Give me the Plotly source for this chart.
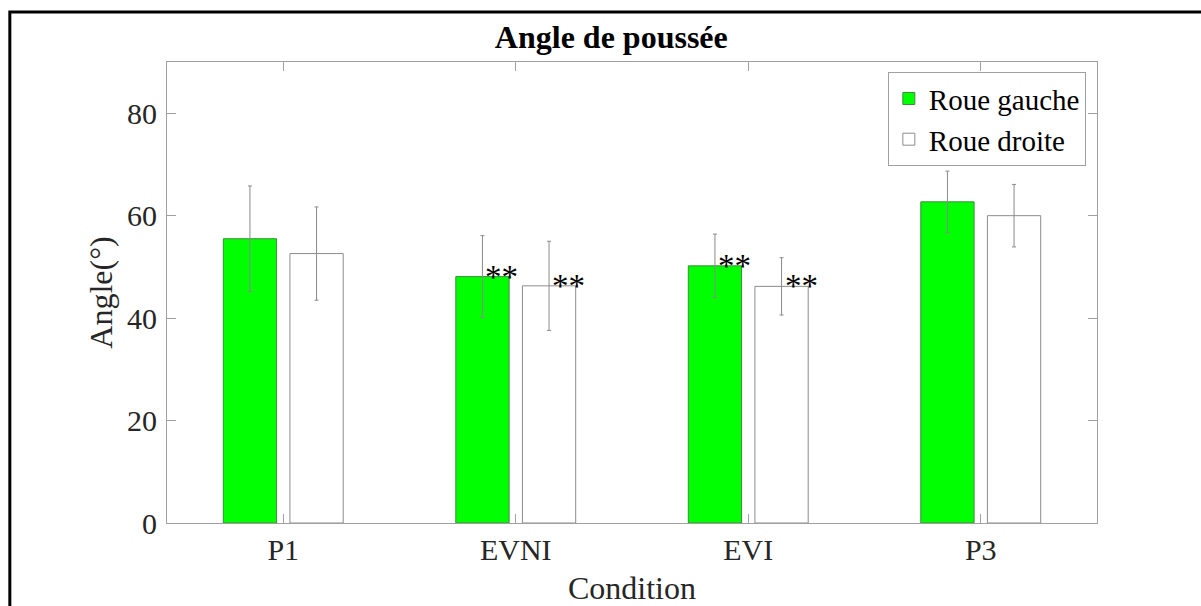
import plotly.graph_objects as go

# ---- data ----
conditions = ["P1", "EVNI", "EVI", "P3"]
left_mean = [55.5, 48.1, 50.2, 62.7]
left_sd = [10.3, 8.0, 6.2, 6.0]
right_mean = [52.6, 46.3, 46.2, 60.0]
right_sd = [9.1, 8.7, 5.6, 6.1]
left_sig = ["", "**", "**", ""]
right_sig = ["", "**", "**", ""]
series_names = ["Roue gauche", "Roue droite"]
y_ticks = [0, 20, 40, 60, 80]

FONT = "Liberation Serif, Times New Roman, serif"
GREY = "#a0a0a0"
BARGAP = 0.427
BARGROUPGAP = 0.2

fig = go.Figure()
fig.add_trace(go.Bar(
    name=series_names[0], x=conditions, y=left_mean,
    marker=dict(color="#00ff00", line=dict(color="#3c8c3c", width=1)),
    error_y=dict(type="data", array=left_sd, color="#8a8a8a", thickness=1, width=2),
))
fig.add_trace(go.Bar(
    name=series_names[1], x=conditions, y=right_mean,
    marker=dict(color="#ffffff", line=dict(color="#8c8c8c", width=1)),
    error_y=dict(type="data", array=right_sd, color="#8a8a8a", thickness=1, width=2),
))

# significance markers, placed beside the top of each bar
slot = (1 - BARGAP) / 2
for means, sigs, sign in [(left_mean, left_sig, -1), (right_mean, right_sig, 1)]:
    for i, (m, s) in enumerate(zip(means, sigs)):
        if s:
            fig.add_annotation(
                x=i + sign * slot / 2, y=m, xref="x", yref="y",
                text=s, showarrow=False, xanchor="left", yanchor="middle",
                xshift=1, yshift=0,
                font=dict(family=FONT, size=33, color="black"),
            )

axis_common = dict(
    showline=True, linecolor=GREY, linewidth=1, mirror="ticks",
    ticks="inside", tickcolor=GREY, ticklen=9, tickwidth=1,
    showgrid=False, zeroline=False, automargin=False,
    tickfont=dict(family=FONT, size=30, color="#262626"),
)

fig.update_layout(
    width=1201, height=606,
    margin=dict(l=167, r=104, t=62, b=83, pad=0, autoexpand=False),
    paper_bgcolor="white", plot_bgcolor="white",
    barmode="group", bargap=BARGAP, bargroupgap=BARGROUPGAP,
    title=dict(text="<b>Angle de poussée</b>", x=0.509, xref="container", xanchor="center",
               y=0.94, yref="container", yanchor="middle",
               font=dict(family=FONT, size=32, color="black")),
    xaxis=dict(**axis_common, range=[-0.5, 3.5], ticklabelstandoff=0,
               title=dict(text="Condition", standoff=12,
                          font=dict(family=FONT, size=32, color="#262626"))),
    yaxis=dict(**axis_common, range=[0, 90], tickvals=y_ticks, ticklabelstandoff=3,
               title=dict(text="Angle(°)", standoff=4,
                          font=dict(family=FONT, size=32, color="#262626"))),
    legend=dict(x=0.988, y=0.978, xanchor="right", yanchor="top",
                bordercolor=GREY, borderwidth=1, bgcolor="white",
                font=dict(family=FONT, size=29, color="black"),
                itemwidth=30, tracegroupgap=0),
    showlegend=True,
)

# outer figure frame (decorative, as in the original export)
fig.add_shape(type="rect", xref="paper", yref="paper",
              x0=-0.169, x1=1.3, y0=-0.5, y1=1.1085,
              line=dict(color="black", width=3), fillcolor="rgba(0,0,0,0)", layer="below")

fig.write_html("out.html")
